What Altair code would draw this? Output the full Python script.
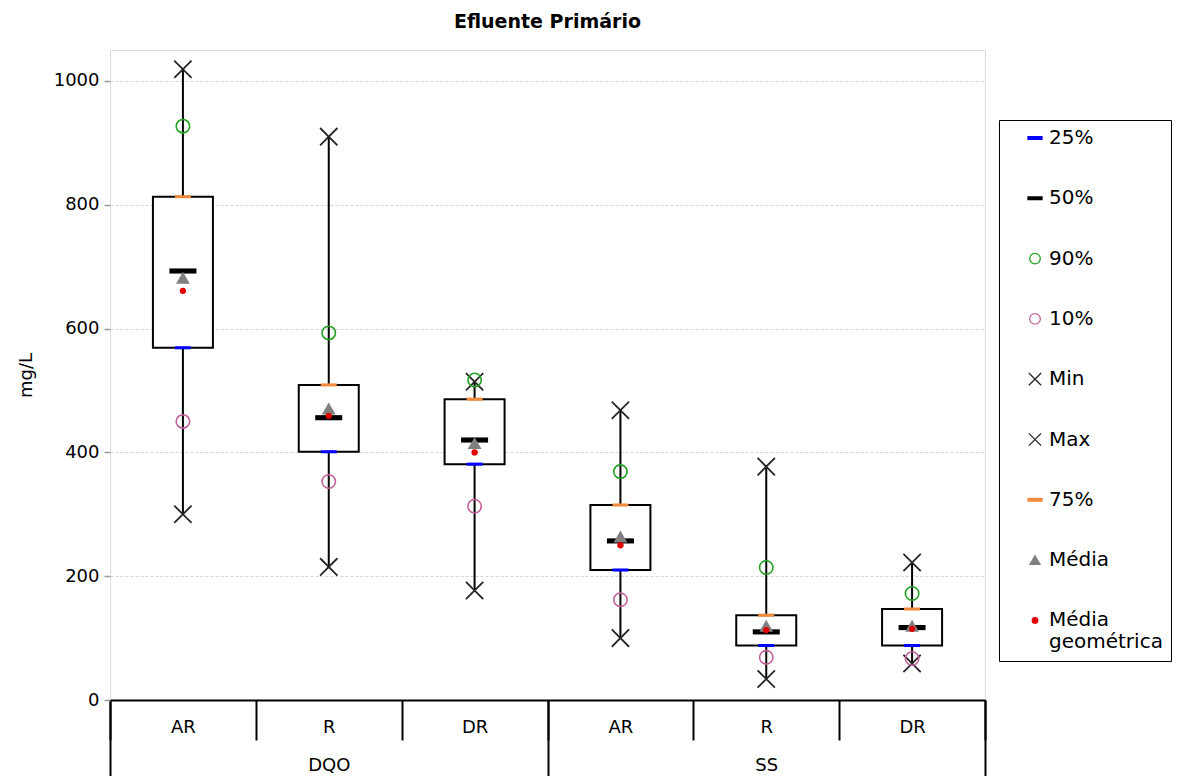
import altair as alt
import pandas as pd

# ---- data ----
groups = ["DQO", "DQO", "DQO", "SS", "SS", "SS"]
subcats = ["AR", "R", "DR", "AR", "R", "DR"]
p25 = [569, 401, 381, 210, 88, 88]
p50 = [693, 456, 420, 257, 110, 117]
p75 = [813, 509, 486, 315, 137, 147]
p90 = [927, 593, 517, 369, 214, 172]
p10 = [450, 353, 313, 162, 69, 67]
vmin = [300, 215, 177, 100, 34, 59]
vmax = [1019, 910, 514, 468, 377, 222]
media = [682, 471, 415, 264, 120, 120]
media_geo = [661, 459, 400, 250, 113, 115]

series_names = ["25%", "50%", "90%", "10%", "Min", "Max", "75%", "Média", "Média geométrica"]
series_values = [p25, p50, p90, p10, vmin, vmax, p75, media, media_geo]
y_ticks = [0, 200, 400, 600, 800, 1000]

keys = [f"{g}|{s}" for g, s in zip(groups, subcats)]
boxes = pd.DataFrame({"key": keys, "q1": p25, "q3": p75, "lo": vmin, "hi": vmax})
rows = []
for name, vals in zip(series_names, series_values):
    for k, v in zip(keys, vals):
        rows.append({"key": k, "series": name, "value": v})
pts = pd.DataFrame(rows)
grp = pd.DataFrame({"group": ["DQO", "SS"]})

# ---- styles ----
FONT = "DejaVu Sans"
DASH = "M-1,-0.19L1,-0.19L1,0.19L-1,0.19Z"
XSHAPE = "M-1,-1L1,1M-1,1L1,-1"
shape_range = [DASH, DASH, "circle", "circle", XSHAPE, XSHAPE, DASH, "triangle-up", "circle"]
stroke_range = ["#0000ff", "#000000", "#22a022", "#c0609a", "#262626", "#262626",
                "#f28a3c", "#808080", "#e00000"]
fill_range = ["#0000ff", "#000000", "transparent", "transparent", "transparent",
              "transparent", "#f28a3c", "#808080", "#e00000"]

xscale = alt.Scale(type="band", paddingInner=0, paddingOuter=0)
x_axis = alt.Axis(title=None, orient="bottom", labelExpr="split(datum.label, '|')[1]",
                  tickBand="extent", tickSize=40, tickColor="black", tickWidth=2,
                  domainColor="black", domainWidth=2, labelPadding=-22, labelAngle=0,
                  labelFont=FONT, labelFontSize=18, labelColor="black", grid=False)
x_main = alt.X("key:N", sort=keys, scale=xscale, axis=x_axis)

yscale = alt.Scale(domain=[0, 1050], nice=False, zero=True)
y_axis = alt.Axis(title="mg/L", values=y_ticks, format="d", grid=True, gridDash=[3, 2],
                  gridColor="#d4d4d4", gridWidth=1, domain=False, tickColor="#999999",
                  tickSize=6, tickWidth=1.5, labelFont=FONT, labelFontSize=18,
                  labelColor="black", labelPadding=5, titleFont=FONT, titleFontSize=18,
                  titleFontWeight="normal", titleColor="black", titlePadding=18)

whisk = alt.Chart(boxes).mark_rule(color="black", strokeWidth=2).encode(
    x=x_main, y=alt.Y("lo:Q", scale=yscale, axis=y_axis), y2="hi:Q")

box = alt.Chart(boxes).mark_bar(size=60, fill="white", stroke="black", strokeWidth=2).encode(
    x=x_main, y=alt.Y("q1:Q", scale=yscale, axis=y_axis), y2="q3:Q")

size_expr = ("datum.value == 'Média geométrica' ? 30 : datum.value == 'Média' ? 100 : "
             "(datum.value == 'Min' || datum.value == 'Max') ? 150 : "
             "(datum.value == '90%' || datum.value == '10%') ? 113 : 196")
legend = alt.Legend(title=None, orient="none", legendX=889, legendY=70, padding=8,
                    rowPadding=40.3, symbolOffset=18, labelOffset=4, strokeColor="black",
                    fillColor="white", labelFont=FONT, labelFontSize=20, labelColor="black",
                    labelLimit=300, symbolStrokeWidth=1.3,
                    symbolSize=alt.ExprRef(size_expr),
                    labelExpr="datum.label == 'Média geométrica' ? ['Média', 'geométrica'] : datum.label")


def marker_layer(members, size, sw):
    return alt.Chart(pts).transform_filter(
        alt.FieldOneOfPredicate(field="series", oneOf=members)
    ).mark_point(opacity=1, size=size, strokeWidth=sw).encode(
        x=x_main,
        y=alt.Y("value:Q", scale=yscale, axis=y_axis),
        shape=alt.Shape("series:N", scale=alt.Scale(domain=series_names, range=shape_range), legend=legend),
        stroke=alt.Stroke("series:N", scale=alt.Scale(domain=series_names, range=stroke_range), legend=legend),
        fill=alt.Fill("series:N", scale=alt.Scale(domain=series_names, range=fill_range), legend=legend),
    )


markers = [
    marker_layer(["Min", "Max"], 300, 1.8),
    marker_layer(["90%", "10%"], 180, 1.6),
    marker_layer(["25%", "75%"], 256, 0),
    marker_layer(["50%"], 729, 0),
    marker_layer(["Média"], 190, 0),
    marker_layer(["Média geométrica"], 40, 0),
]

group_layer = alt.Chart(grp).mark_point(opacity=0).encode(
    x=alt.X("group:N", scale=alt.Scale(type="band", paddingInner=0, paddingOuter=0),
            axis=alt.Axis(title=None, orient="bottom", tickBand="extent", tickSize=76,
                          tickColor="black", tickWidth=2, domain=False, labelPadding=-20,
                          labelAngle=0, labelFont=FONT, labelFontSize=18, labelColor="black",
                          grid=False)))

inner = alt.layer(whisk, box, *markers)
chart = alt.layer(inner, group_layer).resolve_scale(x="independent").properties(
    width=875, height=650,
    padding={"left": 110, "top": 50, "right": 195, "bottom": 76},
    autosize=alt.AutoSizeParams(type="none"),
    title=alt.TitleParams("Efluente Primário", font=FONT, fontSize=19, fontWeight="bold",
                          color="black", anchor="middle", frame="group",
                          baseline="alphabetic", offset=3),
).configure_view(stroke="#8f8f8f", strokeWidth=2).configure(background="white")

chart.save("out.html", embed_options={"renderer": "svg", "actions": False})
